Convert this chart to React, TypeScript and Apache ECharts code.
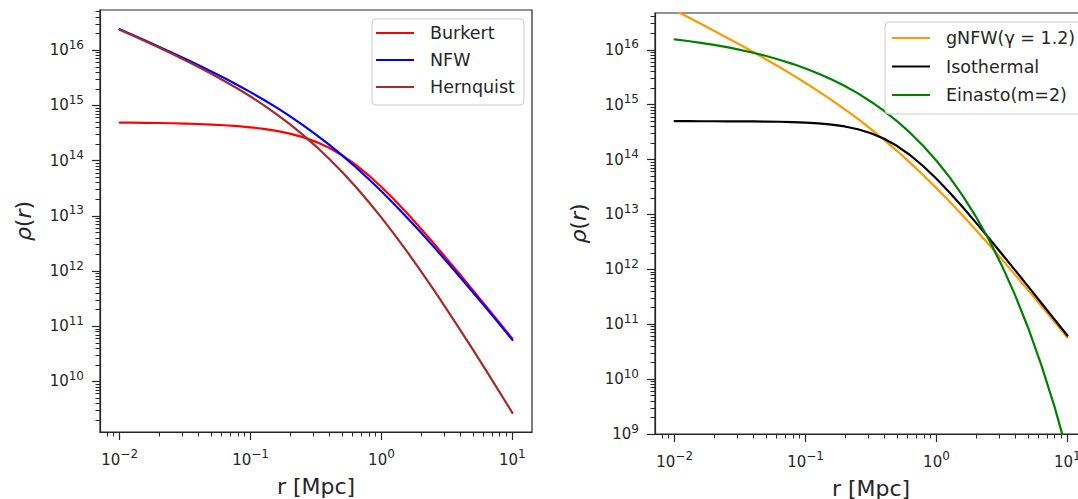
import React, { useEffect, useRef } from "react";
import * as echarts from "echarts";

// radius r [Mpc]
const rValues = [
  0.01, 0.01259, 0.01585, 0.01995, 0.02512, 0.03162, 0.03981, 0.05012, 0.0631, 0.07943,
  0.1, 0.1259, 0.1585, 0.1995, 0.2512, 0.3162, 0.3981, 0.5012, 0.631, 0.7943,
  1, 1.259, 1.585, 1.995, 2.512, 3.162, 3.981, 5.012, 6.31, 7.943, 10,
];

// log10 of density rho(r)
const burkertLog10 = [
  14.690, 14.688, 14.685, 14.681, 14.677, 14.671, 14.663, 14.653, 14.641, 14.624,
  14.603, 14.575, 14.538, 14.489, 14.425, 14.340, 14.231, 14.095, 13.931, 13.739,
  13.523, 13.287, 13.036, 12.772, 12.500, 12.221, 11.938, 11.650, 11.360, 11.068, 10.774,
];
const nfwLog10 = [
  16.381, 16.276, 16.171, 16.064, 15.955, 15.845, 15.732, 15.615, 15.495, 15.370,
  15.240, 15.103, 14.959, 14.806, 14.644, 14.472, 14.289, 14.095, 13.889, 13.672,
  13.444, 13.205, 12.958, 12.702, 12.438, 12.168, 11.893, 11.613, 11.330, 11.043, 10.754,
];
const hernquistLog10 = [
  16.372, 16.265, 16.157, 16.047, 15.934, 15.818, 15.699, 15.574, 15.443, 15.306,
  15.161, 15.006, 14.839, 14.660, 14.467, 14.259, 14.035, 13.794, 13.535, 13.259,
  12.967, 12.659, 12.338, 12.004, 11.658, 11.303, 10.941, 10.571, 10.196, 9.816, 9.432,
];
const gnfwLog10 = [
  16.722, 16.598, 16.473, 16.347, 16.220, 16.090, 15.958, 15.823, 15.685, 15.543,
  15.395, 15.242, 15.083, 14.915, 14.740, 14.555, 14.360, 14.155, 13.940, 13.714,
  13.479, 13.235, 12.982, 12.721, 12.454, 12.181, 11.904, 11.621, 11.336, 11.048, 10.758,
];
const isothermalLog10 = [
  14.699, 14.699, 14.698, 14.698, 14.697, 14.696, 14.695, 14.692, 14.689, 14.683,
  14.673, 14.659, 14.637, 14.603, 14.552, 14.480, 14.379, 14.246, 14.078, 13.878,
  13.650, 13.401, 13.134, 12.856, 12.570, 12.280, 11.986, 11.689, 11.392, 11.093, 10.794,
];
const einastoLog10 = [
  16.190, 16.160, 16.127, 16.089, 16.047, 15.999, 15.946, 15.886, 15.819, 15.744,
  15.659, 15.564, 15.458, 15.339, 15.205, 15.054, 14.886, 14.697, 14.485, 14.246,
  13.979, 13.679, 13.343, 12.966, 12.542, 12.067, 11.534, 10.936, 10.265, 9.512, 8.667,
];

const leftNames = ["Burkert", "NFW", "Hernquist"];
const rightNames = ["gNFW(γ = 1.2)", "Isothermal", "Einasto(m=2)"];

const xMajorTicks = [0.01, 0.1, 1, 10];
const yLeftMajorTicks = [1e10, 1e11, 1e12, 1e13, 1e14, 1e15, 1e16];
const yRightMajorTicks = [1e9, 1e10, 1e11, 1e12, 1e13, 1e14, 1e15, 1e16];

const X_MIN = Math.pow(10, -2.15);
const X_MAX = Math.pow(10, 1.15);
const YL_MIN = Math.pow(10, 9.085);
const YL_MAX = Math.pow(10, 16.728);
const YR_MIN = 1e9;
const YR_MAX = Math.pow(10, 16.67);

function minorTicks(min: number, max: number): number[] {
  const out: number[] = [];
  const k0 = Math.floor(Math.log10(min));
  const k1 = Math.ceil(Math.log10(max));
  for (let k = k0; k <= k1; k++) {
    for (let m = 2; m <= 9; m++) {
      const v = m * Math.pow(10, k);
      if (v >= min && v <= max) out.push(v);
    }
  }
  return out;
}

const INK = "#262626";
const FONT = "DejaVu Sans";

const supFormatter = (v: number) => {
  const e = Math.round(Math.log10(v));
  const s = e < 0 ? "\u2212" + -e : String(e);
  return `{a|10}{b|${s}}`;
};
const labelRich = {
  a: { fontSize: 15, color: INK, fontFamily: FONT },
  b: { fontSize: 12, color: INK, fontFamily: FONT, padding: [0, 0, 11, 0] },
};

function majorAxis(gridIndex: number, min: number, max: number, ticks: number[], isX: boolean, name: string, nameGap: number): any {
  return {
    type: "log",
    logBase: 10,
    gridIndex,
    min,
    max,
    position: isX ? "bottom" : "left",
    name,
    nameLocation: "middle",
    nameGap,
    nameTextStyle: isX
      ? { fontSize: 22, color: INK, fontFamily: FONT }
      : {
          color: INK,
          fontFamily: FONT,
          rich: {
            i: { fontSize: 22, fontStyle: "italic", color: INK, fontFamily: FONT },
            n: { fontSize: 22, color: INK, fontFamily: FONT },
          },
        },
    axisLine: { show: true, onZero: false, lineStyle: { color: INK, width: 1.2 } },
    axisTick: { show: true, inside: false, length: 8, customValues: ticks, lineStyle: { color: INK, width: 1.2 } },
    axisLabel: {
      show: true,
      customValues: ticks,
      margin: 16,
      formatter: supFormatter,
      rich: labelRich,
      showMinLabel: true,
      showMaxLabel: true,
    },
    splitLine: { show: false },
    minorTick: { show: false },
    minorSplitLine: { show: false },
  };
}

function minorAxis(gridIndex: number, min: number, max: number, isX: boolean): any {
  return {
    type: "log",
    logBase: 10,
    gridIndex,
    min,
    max,
    position: isX ? "bottom" : "left",
    axisLine: { show: false, onZero: false },
    axisTick: { show: true, inside: false, length: 4.5, customValues: minorTicks(min, max), lineStyle: { color: INK, width: 1 } },
    axisLabel: { show: false },
    splitLine: { show: false },
  };
}

function lineSeries(name: string, ys: number[], color: string, axisIndex: number): any {
  return {
    type: "line",
    name,
    xAxisIndex: axisIndex,
    yAxisIndex: axisIndex,
    data: rValues.map((r, i) => [r, Math.pow(10, ys[i])]),
    showSymbol: false,
    symbol: "none",
    smooth: false,
    clip: true,
    lineStyle: { width: 2.2, color, join: "round", cap: "round" },
    itemStyle: { color },
    emphasis: { disabled: true },
  };
}

const legendBase = {
  orient: "vertical",
  icon: "rect",
  itemWidth: 38,
  itemHeight: 2.2,
  selectedMode: false,
  backgroundColor: "rgba(255,255,255,0.8)",
  borderColor: "#cccccc",
  borderWidth: 1,
  borderRadius: 4,
  textStyle: { fontSize: 17.5, lineHeight: 20, color: INK, fontFamily: FONT, padding: [0, 0, 0, 11] },
};

export default function App() {
  const ref = useRef<HTMLDivElement>(null);
  useEffect(() => {
    if (!ref.current) return;
    const chart = echarts.init(ref.current, undefined, { renderer: "svg" });
    chart.setOption({
      animation: false,
      backgroundColor: "#ffffff",
      textStyle: { fontFamily: FONT },
      grid: [
        { left: 100, top: 10, width: 432, height: 422, show: true, borderColor: INK, borderWidth: 1.2, backgroundColor: "transparent", containLabel: false, outerBoundsMode: "none" },
        { left: 655, top: 13, width: 432, height: 421, show: true, borderColor: INK, borderWidth: 1.2, backgroundColor: "transparent", containLabel: false, outerBoundsMode: "none" },
      ],
      xAxis: [
        majorAxis(0, X_MIN, X_MAX, xMajorTicks, true, "r [Mpc]", 43),
        minorAxis(0, X_MIN, X_MAX, true),
        majorAxis(1, X_MIN, X_MAX, xMajorTicks, true, "r [Mpc]", 43),
        minorAxis(1, X_MIN, X_MAX, true),
      ],
      yAxis: [
        majorAxis(0, YL_MIN, YL_MAX, yLeftMajorTicks, false, "{i|ρ}{n|(}{i|r}{n|)}", 66),
        minorAxis(0, YL_MIN, YL_MAX, false),
        majorAxis(1, YR_MIN, YR_MAX, yRightMajorTicks, false, "{i|ρ}{n|(}{i|r}{n|)}", 66),
        minorAxis(1, YR_MIN, YR_MAX, false),
      ],
      legend: [
        { ...legendBase, data: leftNames, left: 372, top: 19, itemGap: 7, padding: [4, 9, 8, 4] },
        { ...legendBase, data: rightNames, left: 885, top: 22, itemGap: 8.5, padding: [6, 9, 9, 7] },
      ],
      series: [
        lineSeries(leftNames[0], burkertLog10, "#ff0000", 0),
        lineSeries(leftNames[1], nfwLog10, "#0000ff", 0),
        lineSeries(leftNames[2], hernquistLog10, "#a52a2a", 0),
        lineSeries(rightNames[0], gnfwLog10, "#ff9900", 2),
        lineSeries(rightNames[1], isothermalLog10, "#000000", 2),
        lineSeries(rightNames[2], einastoLog10, "#008000", 2),
      ],
    });
    return () => chart.dispose();
  }, []);
  return (
    <div
      ref={ref}
      style={{ position: "fixed", left: 0, top: 0, width: 1078, height: 499, overflow: "hidden", background: "#fff" }}
    />
  );
}
